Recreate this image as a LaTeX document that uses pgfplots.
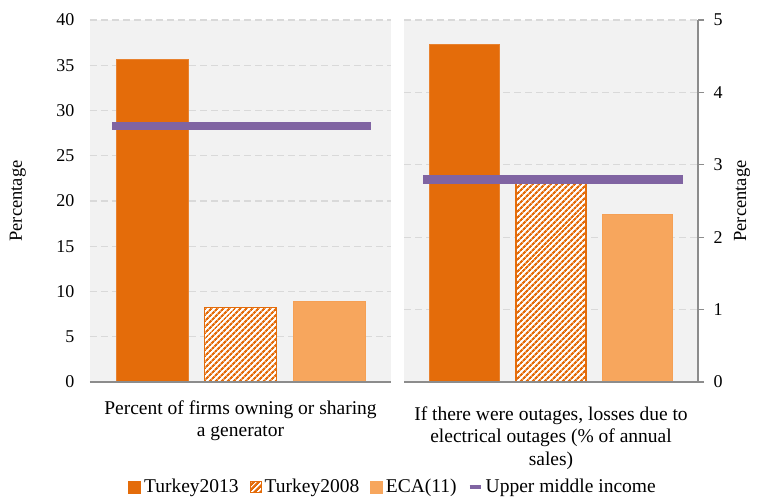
\documentclass[border=0pt]{standalone}
\usepackage{pgfplots}
\pgfplotsset{compat=1.18}
\usepackage{fontspec}
\setmainfont{Liberation Serif}
\usetikzlibrary{patterns.meta}
\definecolor{tkA}{HTML}{E46C0A}
\definecolor{tkC}{HTML}{F7A65D}
\definecolor{umi}{HTML}{8064A2}
\definecolor{bgGray}{HTML}{F2F2F2}
\definecolor{gridGray}{HTML}{D9D9D9}
\definecolor{axGray}{HTML}{8C8C8C}
\begin{document}
\begin{tikzpicture}[x=1pt,y=1pt]
\useasboundingbox (0,-116) rectangle (758,382);
\pgfplotsset{
  common/.style={
    scale only axis, height=362pt, ymin=0, xmin=-1.7, xmax=1.7,
    axis background/.style={fill=bgGray},
    axis line style={draw=none},
    ymajorgrids,
    major grid style={draw=gridGray, line width=1.2pt, dash pattern=on 7pt off 4pt},
    xtick={0}, xtick style={draw=none},
    tick label style={font=\fontsize{18}{21}\selectfont},
    xticklabel style={align=center, font=\fontsize{19.5}{22.5}\selectfont, yshift=-15pt},
    ylabel style={font=\fontsize{18.5}{21}\selectfont},
    /pgf/number format/assume math mode=true,
    clip=false,
    bar width=0.81,
  },
  barA/.style={ybar, fill=tkA, draw=tkA!85!white, line width=0.6pt},
  barB/.style={ybar, fill=white, draw=tkA, line width=1.2pt,
    postaction={pattern={Lines[angle=45,distance=4pt,line width=2.3pt]}, pattern color=tkA}},
  barC/.style={ybar, fill=tkC, draw=tkC!90!tkA, line width=0.6pt},
  umiLine/.style={sharp plot, draw=umi, line width=8.5pt, line cap=butt, mark=none},
}
% Left panel
\begin{axis}[common, at={(90pt,0pt)}, anchor=south west, width=301pt,
  ymax=40, ytick={0,5,...,40}, major tick length=0pt,
  yticklabel style={xshift=-12pt},
  ylabel={Percentage},
  ylabel style={at={(axis description cs:-0.24,0.5)}, anchor=center},
  xticklabel={Percent of firms owning or sharing\\a generator},
  legend columns=4,
  legend style={at={(1.007,-0.29)}, anchor=center, draw=none, fill=none,
    font=\fontsize{19.5}{22}\selectfont,
    /tikz/every odd column/.append style={column sep=1pt},
    /tikz/every even column/.append style={column sep=9pt}},
  execute at end axis={\draw[axGray, line width=1.6pt] (rel axis cs:0,0) -- (rel axis cs:1,0);},
]
\addplot[barA, legend image code/.code={\fill[tkA] (0pt,-6pt) rectangle (12pt,6pt);}] coordinates {(-1,35.7)};
\addlegendentry{Turkey2013}
\addplot[barB, legend image code/.code={\filldraw[fill=white, draw=tkA, line width=1.2pt, postaction={pattern={Lines[angle=45,distance=4pt,line width=2.3pt]}, pattern color=tkA}] (0.6pt,-5.4pt) rectangle (11.4pt,5.4pt);}] coordinates {(0,8.2)};
\addlegendentry{Turkey2008}
\addplot[barC, legend image code/.code={\fill[tkC] (0pt,-6pt) rectangle (12pt,6pt);}] coordinates {(1,8.9)};
\addlegendentry{ECA(11)}
\addplot[umiLine, legend image code/.code={\draw[umi, line width=4pt] (0pt,0pt) -- (11pt,0pt);}] coordinates {(-1.45,28.3) (1.47,28.3)};
\addlegendentry{Upper middle income}
\end{axis}
% Right panel
\begin{axis}[common, at={(404pt,0pt)}, anchor=south west, width=294pt,
  ymax=5, ytick={0,1,...,5}, ytick pos=right, yticklabel pos=right,
  tick align=outside, major tick length=6pt,
  ytick style={draw=axGray, line width=1.2pt},
  yticklabel style={xshift=6pt},
  ylabel={Percentage},
  ylabel style={at={(axis description cs:1.15,0.5)}, anchor=center},
  xticklabel={If there were outages, losses due to\\electrical outages (\% of annual\\sales)},
  execute at end axis={\draw[axGray, line width=1.6pt] (rel axis cs:0,0) -- (rel axis cs:1,0);
    \draw[axGray, line width=1.6pt] (rel axis cs:1,0) -- (rel axis cs:1,1);},
]
\addplot[barA] coordinates {(-1,4.67)};
\addplot[barB] coordinates {(0,2.74)};
\addplot[barC] coordinates {(1,2.31)};
\addplot[umiLine] coordinates {(-1.48,2.8) (1.53,2.8)};
\end{axis}
\end{tikzpicture}
\end{document}
